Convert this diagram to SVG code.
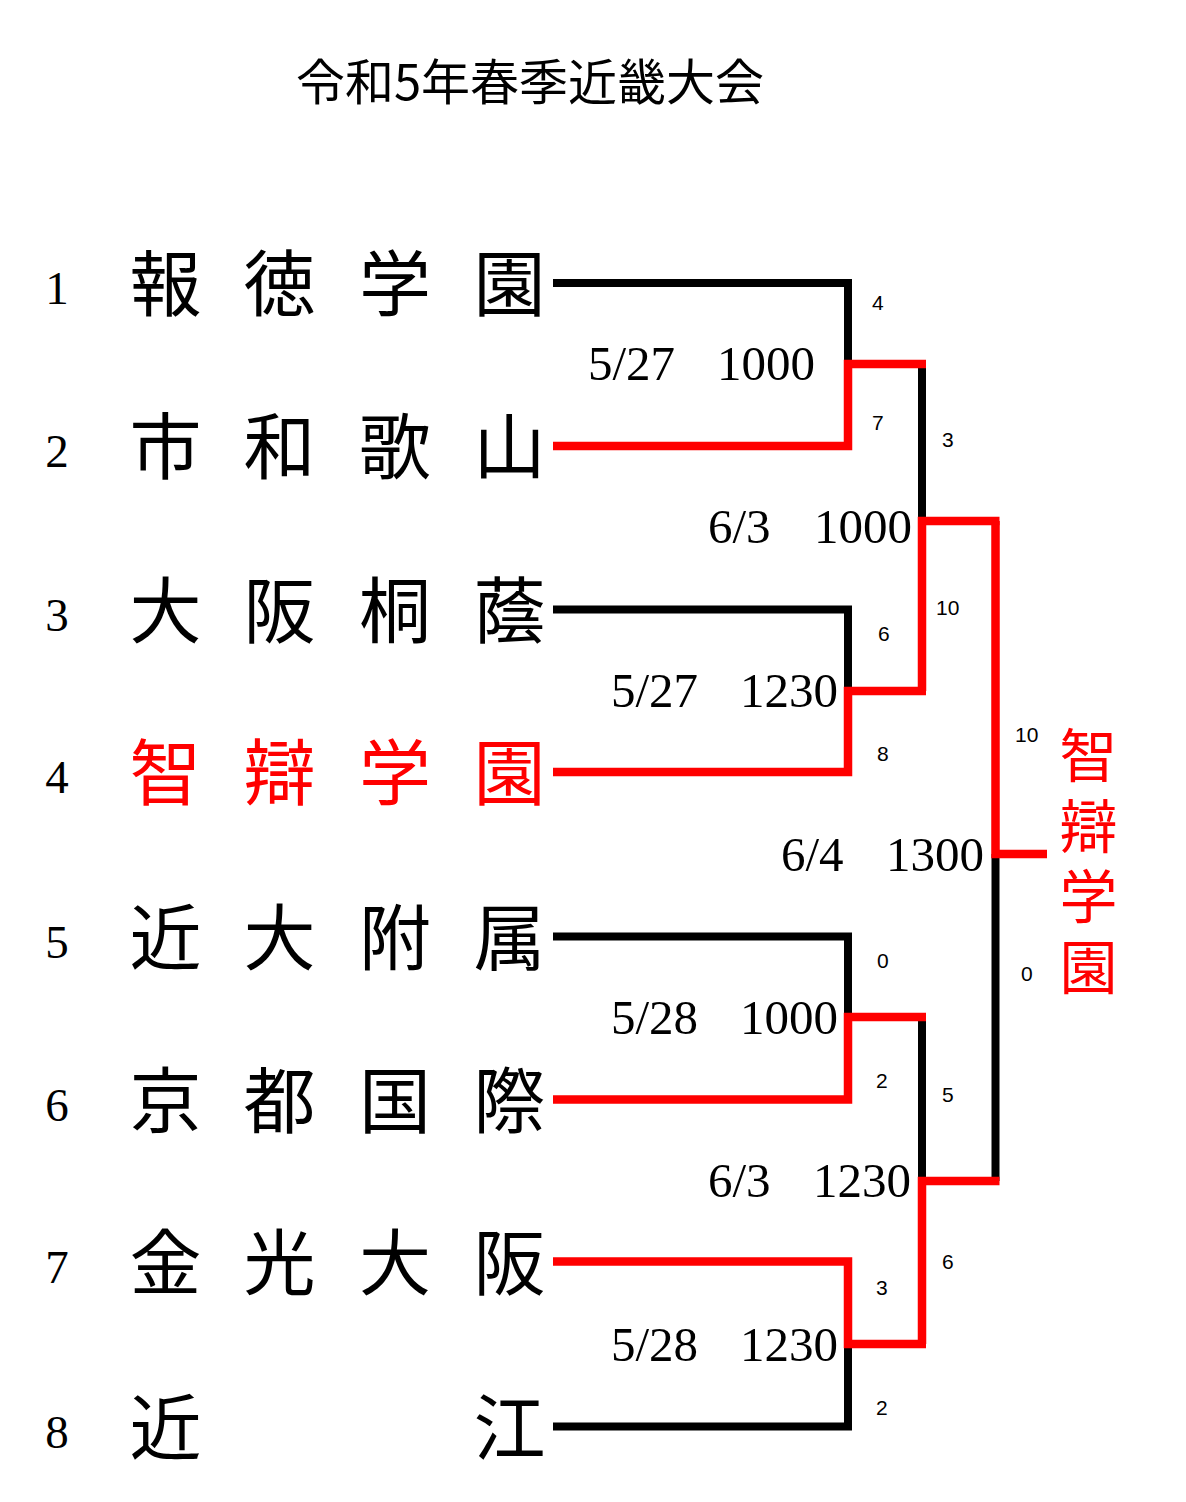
<svg xmlns="http://www.w3.org/2000/svg" width="1186" height="1502" viewBox="0 0 1186 1502">
<style>
.bk{fill:none;stroke:#000;stroke-width:8;stroke-linejoin:miter}
.rd{fill:none;stroke:#ff0000;stroke-width:8.5;stroke-linejoin:miter}
.ttl{font-family:"Noto Sans CJK JP","Noto Sans CJK SC",sans-serif;font-size:49px;fill:#000}
.nm{font-family:"Noto Sans CJK JP","Noto Sans CJK SC",sans-serif;font-size:72px;fill:#000;text-anchor:middle}
.nm.win{fill:#ff0000}
.no{font-family:"Liberation Serif",serif;font-size:47px;fill:#000;text-anchor:middle}
.dt{font-family:"Liberation Serif","Noto Sans CJK JP",serif;font-size:49px;fill:#000}
.sc{font-family:"Liberation Sans",sans-serif;font-size:21px;fill:#000}
.champ{font-family:"Noto Sans CJK JP","Noto Sans CJK SC",sans-serif;font-size:58px;fill:#ff0000;writing-mode:vertical-rl;letter-spacing:12.5px}
</style>
<rect width="1186" height="1502" fill="#fff"/>
<text class="ttl" x="530" y="100" text-anchor="middle">令和5年春季近畿大会</text>

<g id="connectors">
  <path class="bk" d="M553,283 H848 V364"/>
  <path class="bk" d="M553,609.5 H848 V691"/>
  <path class="bk" d="M553,936.5 H848 V1017"/>
  <path class="bk" d="M553,1426.5 H848 V1344"/>
  <path class="bk" d="M922,364 V521"/>
  <path class="bk" d="M922,1017 V1181"/>
  <path class="bk" d="M995.5,854 V1181"/>
  <path class="rd" d="M553,446 H848 V364 H926"/>
  <path class="rd" d="M553,772 H848 V691 H926"/>
  <path class="rd" d="M553,1099.5 H848 V1017 H926"/>
  <path class="rd" d="M553,1261.5 H848 V1344 H926"/>
  <path class="rd" d="M922,691 V521 H999.5"/>
  <path class="rd" d="M922,1344 V1181 H999.5"/>
  <path class="rd" d="M995.5,521 V854 H1047"/>
</g>

<g id="team1"><text class="no" x="57" y="304">1</text><text class="nm" y="310"><tspan x="165.5">報</tspan><tspan x="279.5">徳</tspan><tspan x="395">学</tspan><tspan x="509.5">園</tspan></text></g>
<g id="team2"><text class="no" x="57" y="467">2</text><text class="nm" y="473"><tspan x="165.5">市</tspan><tspan x="279.5">和</tspan><tspan x="395">歌</tspan><tspan x="509.5">山</tspan></text></g>
<g id="team3"><text class="no" x="57" y="630.5">3</text><text class="nm" y="636.5"><tspan x="165.5">大</tspan><tspan x="279.5">阪</tspan><tspan x="395">桐</tspan><tspan x="509.5">蔭</tspan></text></g>
<g id="team4"><text class="no" x="57" y="793">4</text><text class="nm win" y="799"><tspan x="165.5">智</tspan><tspan x="279.5">辯</tspan><tspan x="395">学</tspan><tspan x="509.5">園</tspan></text></g>
<g id="team5"><text class="no" x="57" y="957.5">5</text><text class="nm" y="963.5"><tspan x="165.5">近</tspan><tspan x="279.5">大</tspan><tspan x="395">附</tspan><tspan x="509.5">属</tspan></text></g>
<g id="team6"><text class="no" x="57" y="1120.5">6</text><text class="nm" y="1126.5"><tspan x="165.5">京</tspan><tspan x="279.5">都</tspan><tspan x="395">国</tspan><tspan x="509.5">際</tspan></text></g>
<g id="team7"><text class="no" x="57" y="1282.5">7</text><text class="nm" y="1288.5"><tspan x="165.5">金</tspan><tspan x="279.5">光</tspan><tspan x="395">大</tspan><tspan x="509.5">阪</tspan></text></g>
<g id="team8"><text class="no" x="57" y="1447.5">8</text><text class="nm" y="1453.5"><tspan x="165.5">近</tspan><tspan x="509.5">江</tspan></text></g>

<g id="match1"><text class="dt" y="380"><tspan x="588">5/27　</tspan><tspan x="717">1000</tspan></text><text class="sc" x="872" y="310">4</text><text class="sc" x="872" y="430">7</text></g>
<g id="match2"><text class="dt" y="707"><tspan x="611">5/27　</tspan><tspan x="740">1230</tspan></text><text class="sc" x="878" y="641">6</text><text class="sc" x="877" y="761">8</text></g>
<g id="match3"><text class="dt" y="1034"><tspan x="611">5/28　</tspan><tspan x="740">1000</tspan></text><text class="sc" x="877" y="968">0</text><text class="sc" x="876" y="1088">2</text></g>
<g id="match4"><text class="dt" y="1361"><tspan x="611">5/28　</tspan><tspan x="740">1230</tspan></text><text class="sc" x="876" y="1295">3</text><text class="sc" x="876" y="1415">2</text></g>
<g id="semi1"><text class="dt" y="543"><tspan x="708">6/3　</tspan><tspan x="814">1000</tspan></text><text class="sc" x="942" y="447">3</text><text class="sc" x="936" y="615">10</text></g>
<g id="semi2"><text class="dt" y="1197"><tspan x="708">6/3　</tspan><tspan x="813">1230</tspan></text><text class="sc" x="942" y="1102">5</text><text class="sc" x="942" y="1269">6</text></g>
<g id="final"><text class="dt" y="871"><tspan x="781">6/4　</tspan><tspan x="886">1300</tspan></text><text class="sc" x="1015" y="742">10</text><text class="sc" x="1021" y="981">0</text></g>
<g id="champion"><text class="champ" x="1088.5" y="726">智辯学園</text></g>
</svg>
